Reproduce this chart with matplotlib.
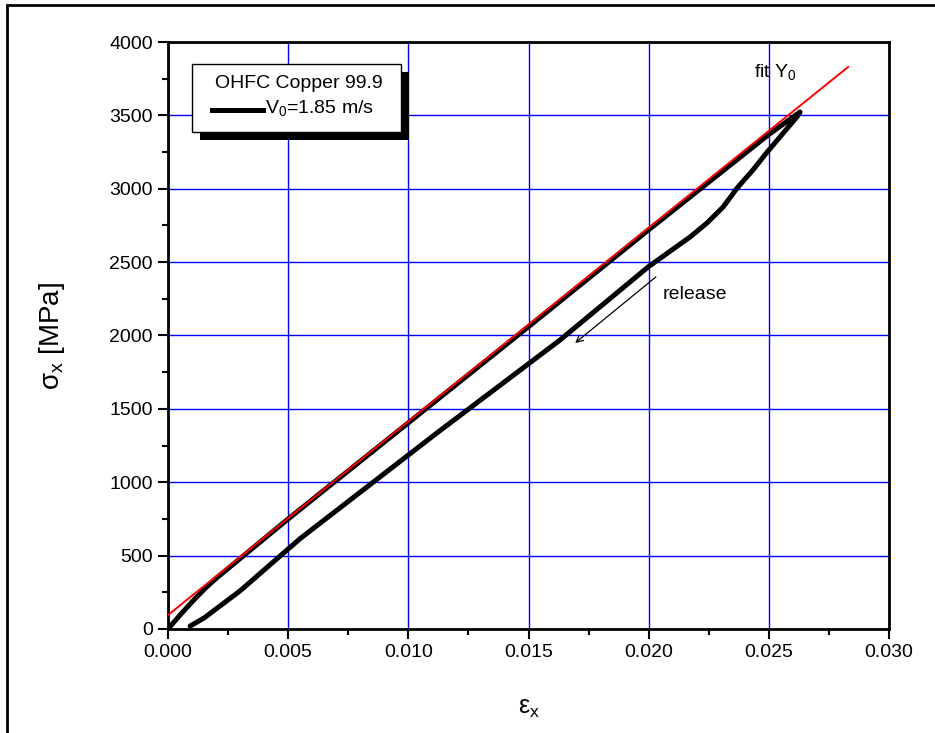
import matplotlib
matplotlib.use("Agg")
import matplotlib.pyplot as plt
from matplotlib.patches import Rectangle
from matplotlib.lines import Line2D
from matplotlib.ticker import MultipleLocator, FormatStrFormatter

plt.rcParams['font.family'] = ['Liberation Sans', 'DejaVu Sans']
plt.rcParams['mathtext.fontset'] = 'custom'
plt.rcParams['mathtext.rm'] = 'Liberation Sans'
plt.rcParams['mathtext.it'] = 'Liberation Sans'

# loading branch (strain, stress in MPa)
load_eps = [0.0, 0.0005, 0.001, 0.0015, 0.002, 0.003, 0.005, 0.010, 0.015, 0.020, 0.025, 0.0263]
load_sig = [0, 95, 185, 270, 345, 480, 750, 1405, 2060, 2720, 3370, 3523]

# release branch
rel_eps = [0.0263, 0.02617, 0.0249, 0.02434, 0.02368, 0.0231, 0.02243, 0.02172,
           0.020, 0.01631, 0.01119, 0.00549, 0.003, 0.0015, 0.00092]
rel_sig = [3523, 3490, 3244, 3128, 3005, 2876, 2767, 2671,
           2470, 1969, 1336, 615, 260, 75, 20]

# fit line Y0
fit_eps = [0.0, 0.0283]
fit_sig = [95, 3830]

legend_title = 'OHFC Copper 99.9'
legend_label = r'V$_0$=1.85 m/s'

fig = plt.figure(figsize=(9.35, 7.33), dpi=100)
ax = fig.add_axes([0.1797, 0.1419, 0.9508 - 0.1797, 0.9427 - 0.1419])

ax.grid(True, color='#0000ff', linewidth=1.0)
ax.set_axisbelow(True)

ax.plot(load_eps + rel_eps, load_sig + rel_sig, color='black', linewidth=3.6,
        solid_capstyle='round', solid_joinstyle='round', zorder=3)
ax.plot(fit_eps, fit_sig, color='red', linewidth=1.4, zorder=4)

ax.set_xlim(0, 0.030)
ax.set_ylim(0, 4000)
ax.xaxis.set_major_locator(MultipleLocator(0.005))
ax.xaxis.set_minor_locator(MultipleLocator(0.0025))
ax.yaxis.set_major_locator(MultipleLocator(500))
ax.yaxis.set_minor_locator(MultipleLocator(250))
ax.xaxis.set_major_formatter(FormatStrFormatter('%.3f'))
ax.tick_params(which='major', direction='out', length=7, width=1.5, labelsize=14, pad=4)
ax.tick_params(which='minor', direction='out', length=4.5, width=1.5)
for s in ax.spines.values():
    s.set_linewidth(2)

ax.set_xlabel(r'ε$_{\mathregular{x}}$', fontsize=18, labelpad=25)
ax.set_ylabel(r'σ$_{\mathregular{x}}$ [MPa]', fontsize=20, labelpad=30)

ax.text(0.0244, 3796, r'fit Y$_0$', fontsize=14, va='center', ha='left')
ax.annotate('', xy=(0.01694, 1949), xytext=(0.0203, 2399),
            arrowprops=dict(arrowstyle='->', color='black', lw=0.9,
                            mutation_scale=12, shrinkA=0, shrinkB=0))
ax.text(0.0206, 2276, 'release', fontsize=14, va='center', ha='left')

# legend box drawn by hand, with black drop shadow
bx0, bx1, by0, by1 = 0.0333, 0.3232, 0.8467, 0.9625
ax.add_patch(Rectangle((bx0 + 0.0111, by0 - 0.0136), bx1 - bx0, by1 - by0,
                       transform=ax.transAxes, facecolor='black', edgecolor='none', zorder=9))
ax.add_patch(Rectangle((bx0, by0), bx1 - bx0, by1 - by0, transform=ax.transAxes,
                       facecolor='white', edgecolor='black', linewidth=1.0, zorder=10))
ax.text(0.0652, 0.929, legend_title, transform=ax.transAxes, fontsize=14,
        va='center', ha='left', zorder=11)
ax.add_line(Line2D([0.061, 0.1318], [0.8842, 0.8842], transform=ax.transAxes,
                   color='black', linewidth=3.6, zorder=11))
ax.text(0.1345, 0.887, legend_label, transform=ax.transAxes, fontsize=14,
        va='center', ha='left', zorder=11)

# outer figure frame (left and top visible)
fig.patches.append(Rectangle((7 / 935, -0.5), 2, 0.9932 + 0.5, transform=fig.transFigure,
                             fill=False, edgecolor='black', linewidth=2))

fig.savefig('out.png', dpi=100)
